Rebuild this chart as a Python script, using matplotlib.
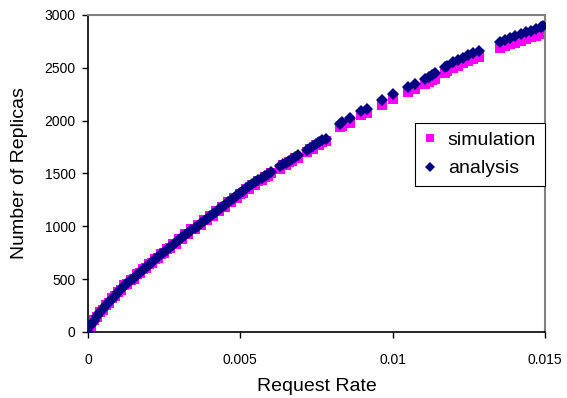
import matplotlib
matplotlib.use('Agg')
import matplotlib.pyplot as plt

plt.rcParams['font.family'] = ['Liberation Sans', 'DejaVu Sans']

# request rate / replica count
rate_dense = [0.0, 0.0001, 0.0002, 0.0003, 0.0004, 0.0005, 0.0006, 0.0007, 0.0008, 0.0009,
              0.0010, 0.0011, 0.0012, 0.0013, 0.0014, 0.0015, 0.0016, 0.0017, 0.0018, 0.0019,
              0.0020, 0.0021, 0.0022, 0.0023, 0.0024, 0.0025, 0.0026, 0.0027, 0.0028, 0.0029,
              0.0030, 0.0031, 0.0032, 0.0033, 0.0034, 0.0035, 0.0036, 0.0037, 0.0038, 0.0039,
              0.0040, 0.0041, 0.0042, 0.0043, 0.0044, 0.0045, 0.0046, 0.0047, 0.0048, 0.0049,
              0.0050, 0.0051, 0.0052, 0.0053, 0.0054, 0.0055, 0.0056, 0.0057, 0.0058, 0.0059,
              0.0060, 0.0063, 0.0064, 0.0065, 0.0066, 0.0067, 0.0068, 0.0069,
              0.0072, 0.0073, 0.0074, 0.0075, 0.0076, 0.0077, 0.0078]
rate_sparse = [0.00827, 0.00833, 0.0086, 0.00898, 0.00915, 0.00964, 0.01002, 0.01051,
               0.01073, 0.01106, 0.01118, 0.01128, 0.0114, 0.01172, 0.0118, 0.01199,
               0.01215, 0.01232, 0.01248, 0.01265, 0.01284, 0.01353, 0.0137, 0.01387,
               0.01403, 0.0142, 0.01437, 0.01453, 0.0147, 0.01487, 0.01494]

analysis_dense = [0, 62, 107, 147, 184, 218, 251, 283, 314, 344,
                  374, 403, 431, 459, 487, 513, 539, 564, 589, 614,
                  638, 662, 686, 710, 733, 756, 779, 802, 825, 848,
                  871, 894, 917, 940, 962, 984, 1006, 1028, 1050, 1072,
                  1094, 1116, 1138, 1160, 1182, 1204, 1226, 1248, 1270, 1292,
                  1314, 1336, 1358, 1378, 1398, 1418, 1438, 1457, 1476, 1495,
                  1514, 1568, 1586, 1603, 1620, 1637, 1654, 1670,
                  1722, 1740, 1758, 1776, 1794, 1812, 1830]
simulation_dense = [5, 55, 115, 140, 192, 210, 258, 276, 322, 336,
                    381, 395, 440, 450, 494, 504, 547, 555, 597, 604,
                    646, 652, 693, 699, 742, 745, 788, 790, 833, 836,
                    879, 881, 925, 926, 970, 970, 1013, 1013, 1056, 1056,
                    1099, 1099, 1141, 1142, 1184, 1185, 1226, 1228, 1268, 1271,
                    1310, 1314, 1352, 1356, 1392, 1395, 1431, 1434, 1469, 1472,
                    1506, 1545, 1578, 1580, 1612, 1614, 1645, 1647,
                    1700, 1730, 1734, 1766, 1770, 1801, 1806]
analysis_sparse = [1972, 1985, 2020, 2090, 2114, 2193, 2250, 2319,
                   2350, 2398, 2415, 2430, 2447, 2505, 2518, 2550,
                   2575, 2597, 2617, 2636, 2660, 2745, 2765, 2783,
                   2800, 2818, 2835, 2850, 2868, 2885, 2895]
simulation_sparse = [1935, 1945, 1980, 2050, 2072, 2150, 2205, 2272,
                     2302, 2350, 2366, 2380, 2398, 2455, 2467, 2497,
                     2521, 2543, 2562, 2580, 2603, 2685, 2705, 2722,
                     2738, 2756, 2772, 2787, 2805, 2822, 2832]

x_ticks = [0, 0.005, 0.01, 0.015]
x_labels = ['0', '0.005', '0.01', '0.015']
y_ticks = [0, 500, 1000, 1500, 2000, 2500, 3000]

fig = plt.figure(figsize=(5.67, 3.98), dpi=100)
ax = fig.add_axes([0.155, 0.166, 0.806, 0.7965])

rate = rate_dense + rate_sparse
ax.plot(rate, simulation_dense + simulation_sparse, linestyle='none', marker='s',
        markersize=6.6, color='#FF00FF', markeredgewidth=0, label='simulation', zorder=2)
ax.plot(rate, analysis_dense + analysis_sparse, linestyle='none', marker='D',
        markersize=5.8, color='#000080', markeredgewidth=0, label='analysis', zorder=3)

ax.set_xlim(0, 0.015)
ax.set_ylim(0, 3000)
ax.set_xticks(x_ticks)
ax.set_xticklabels(x_labels)
ax.set_yticks(y_ticks)
ax.tick_params(axis='both', direction='out', length=4, width=1, labelsize=10, color='black')
ax.tick_params(axis='x', pad=11)
ax.tick_params(axis='y', pad=5)

for side in ['left', 'bottom']:
    ax.spines[side].set_color('black')
    ax.spines[side].set_linewidth(1.2)
for side in ['top', 'right']:
    ax.spines[side].set_color('#808080')
    ax.spines[side].set_linewidth(1.5)

ax.set_xlabel('Request Rate', fontsize=14, labelpad=8)
ax.set_ylabel('Number of Replicas', fontsize=14, labelpad=12)

leg = ax.legend(loc='upper right', bbox_to_anchor=(1.0, 0.66), fontsize=14,
                frameon=True, fancybox=False, framealpha=1, edgecolor='black',
                handlelength=0.7, handletextpad=0.55, borderpad=0.45, labelspacing=0.55,
                markerscale=0.9, borderaxespad=0)
leg.get_frame().set_linewidth(0.8)

fig.savefig('out.png', dpi=100)
